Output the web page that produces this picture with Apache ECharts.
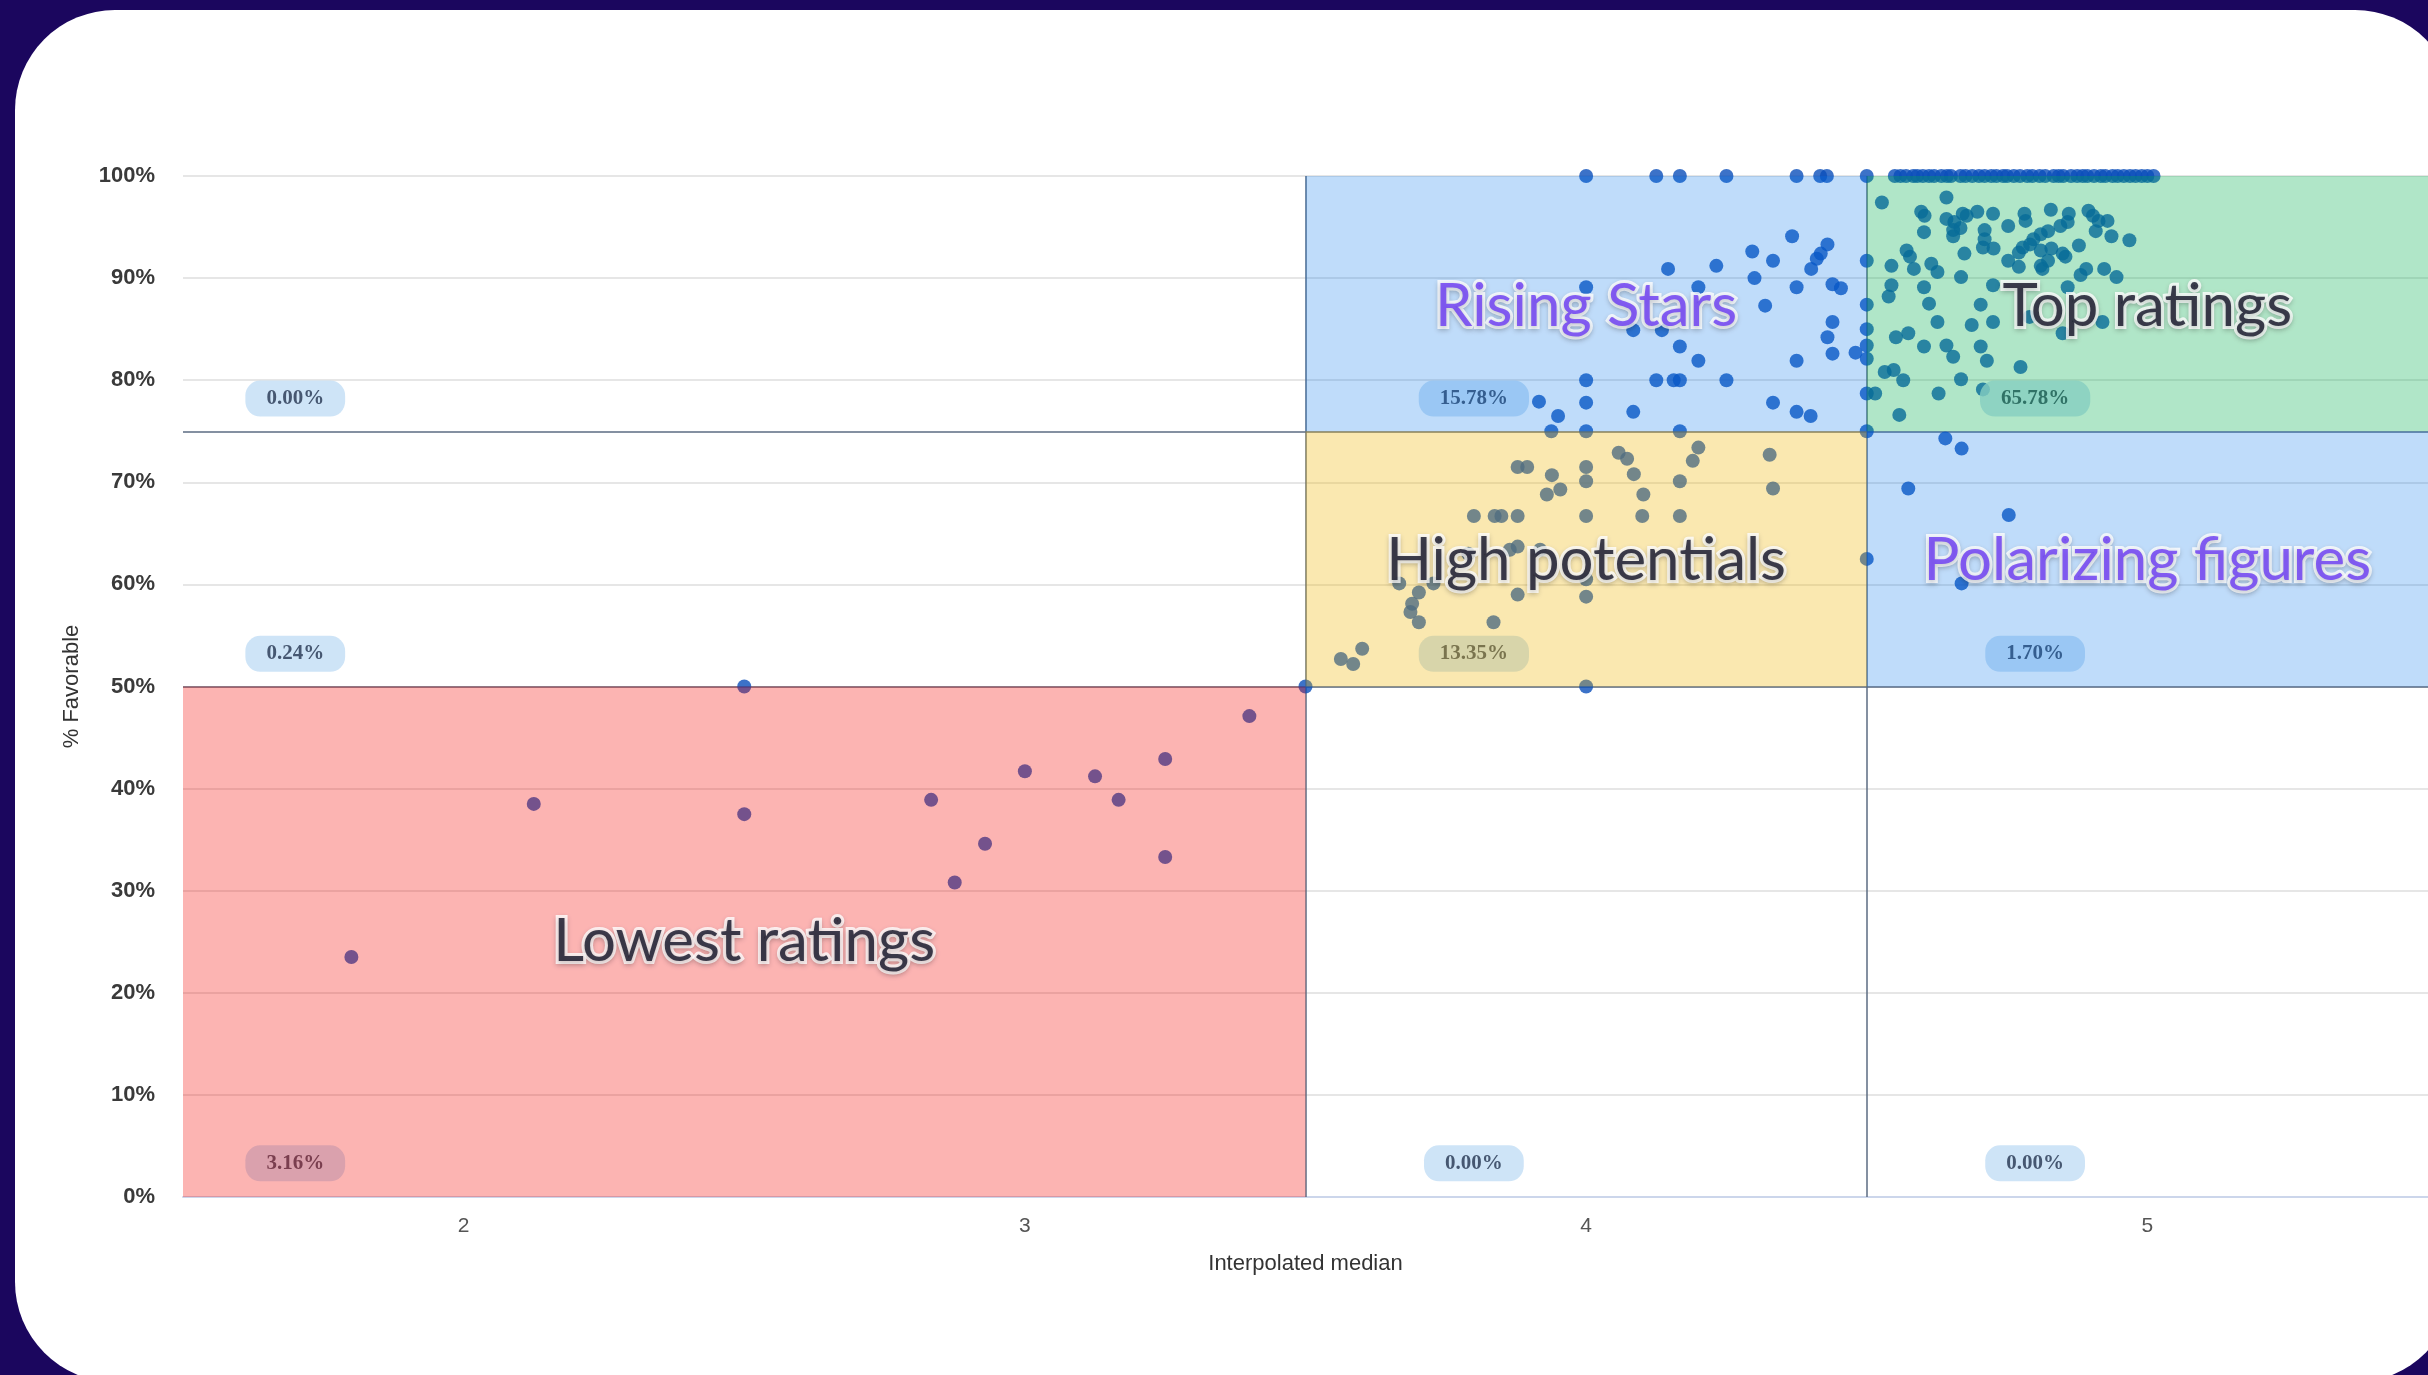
<!DOCTYPE html>
<html><head><meta charset="utf-8">
<script src="https://cdn.jsdelivr.net/npm/echarts@6/dist/echarts.min.js"></script>
<style>
html,body{margin:0;padding:0;width:2428px;height:1375px;overflow:hidden;background:#1b065e;}
#card{position:absolute;left:15px;top:10px;width:2440px;height:1372px;background:#fff;border-radius:100px;}
#chart{position:absolute;left:0;top:0;width:2428px;height:1375px;}
</style></head><body><div id="card"></div><div id="chart"></div>
<script>
// ---- axis ticks ----
const xTickValues = [2, 3, 4, 5];
const yTickStep = 10;

// ---- quadrant thresholds ----
const medianThresholds = [3.5, 4.5];
const favorableThresholds = [50, 75];

// ---- points (interpolated median, % favorable) ----
const lowestX = [1.8, 2.125, 2.5, 2.5, 2.833, 2.875, 2.929, 3.0, 3.125, 3.167, 3.25, 3.25, 3.4, 3.5];
const lowestY = [23.5, 38.5, 50.0, 37.5, 38.9, 30.8, 34.6, 41.7, 41.2, 38.9, 42.9, 33.3, 47.1, 50.0];

const potentialX = [3.938, 4.0, 4.167, 4.5, 4.058, 4.073, 4.2, 4.19, 3.878, 3.895, 4.0, 4.327, 3.939, 4.0, 4.085, 4.167, 4.333, 3.954, 3.93, 4.102,
  3.8, 3.837, 3.849, 3.878, 4.0, 4.1, 4.167, 3.878, 3.864, 3.918, 3.79, 3.667, 3.728, 4.0, 4.0, 3.878, 3.702, 3.69, 3.687, 3.702, 3.835,
  3.601, 3.563, 3.585, 4.0, 4.5];
const potentialY = [75, 75, 75, 75, 72.9, 72.3, 73.4, 72.1, 71.5, 71.5, 71.5, 72.7, 70.7, 70.1, 70.8, 70.1, 69.4, 69.3, 68.8, 68.8,
  66.7, 66.7, 66.7, 66.7, 66.7, 66.7, 66.7, 63.7, 63.4, 63.4, 63.0, 60.1, 60.1, 60.5, 58.8, 59.0, 59.2, 58.1, 57.3, 56.3, 56.3,
  53.7, 52.7, 52.2, 50, 62.5];

const risingX = [4.0, 4.125, 4.167, 4.25, 4.375, 4.417, 4.429, 4.5,
  4.367, 4.296, 4.333, 4.43, 4.418, 4.411, 4.401, 4.146, 4.232, 4.3, 4.0, 4.2, 4.375, 4.439, 4.454, 4.319,
  4.5, 4.5, 4.5, 4.5, 4.5, 4.439, 4.43, 4.439, 4.48, 4.084, 4.135, 4.167, 4.2, 4.375,
  4.0, 4.125, 4.156, 4.167, 4.25, 3.916, 3.95, 4.0, 4.084, 4.333, 4.375, 4.4, 4.5, 4.515];
const risingY = [100, 100, 100, 100, 100, 100, 100, 100,
  94.1, 92.6, 91.7, 93.3, 92.4, 91.9, 90.9, 90.9, 91.2, 90.0, 89.1, 89.1, 89.1, 89.4, 89.0, 87.3,
  91.7, 87.4, 85.0, 83.4, 82.1, 85.7, 84.2, 82.6, 82.7, 84.9, 84.9, 83.3, 81.9, 81.9,
  80.0, 80.0, 80.0, 80.0, 80.0, 77.9, 76.5, 77.8, 76.9, 77.8, 76.9, 76.5, 78.7, 78.7];

const topX = [4.55, 4.56, 4.57, 4.583, 4.59, 4.6, 4.611, 4.62, 4.633, 4.643, 4.65, 4.667, 4.676, 4.688, 4.7, 4.71, 4.722, 4.731,
  4.743, 4.75, 4.762, 4.773, 4.786, 4.795, 4.808, 4.818, 4.833, 4.842, 4.85, 4.864, 4.875, 4.885, 4.893, 4.905, 4.917, 4.925,
  4.938, 4.947, 4.958, 4.969, 4.979, 4.99, 5.0, 5.011,
  4.527, 4.642, 4.597, 4.603, 4.642, 4.656, 4.671, 4.678, 4.697, 4.725, 4.654, 4.667, 4.602, 4.654, 4.71, 4.752, 4.781, 4.783,
  4.828, 4.86, 4.858, 4.845, 4.895, 4.903, 4.913, 4.929, 4.908, 4.936, 4.968, 4.823, 4.81, 4.797, 4.791, 4.778, 4.771, 4.81,
  4.829, 4.849, 4.854, 4.823, 4.81, 4.813, 4.878, 4.71, 4.707, 4.726, 4.674, 4.571, 4.577, 4.584, 4.615, 4.626, 4.544, 4.752,
  4.771, 4.891, 4.881, 4.923, 4.945, 4.668, 4.544, 4.539, 4.602, 4.611, 4.725, 4.703, 4.626, 4.687, 4.725, 4.552, 4.574,
  4.602, 4.642, 4.654, 4.703, 4.714, 4.774, 4.532, 4.548, 4.565, 4.668, 4.628, 4.707, 4.558, 4.858, 4.849, 4.92, 4.79];
const topY = [100, 100, 100, 100, 100, 100, 100, 100, 100, 100, 100, 100, 100, 100, 100, 100, 100, 100,
  100, 100, 100, 100, 100, 100, 100, 100, 100, 100, 100, 100, 100, 100, 100, 100, 100, 100,
  100, 100, 100, 100, 100, 100, 100, 100,
  97.4, 97.9, 96.5, 96.1, 95.8, 95.5, 96.3, 96.1, 96.5, 96.3, 94.7, 94.9, 94.5, 94.1, 94.7, 95.1, 96.3, 95.6,
  96.7, 96.3, 95.5, 95.1, 96.6, 96.1, 95.6, 95.6, 94.6, 94.1, 93.7, 94.6, 94.3, 93.8, 93.3, 93.0, 92.5, 92.7,
  92.9, 92.4, 92.1, 91.7, 91.2, 90.9, 93.2, 93.8, 93.0, 92.9, 92.4, 92.7, 92.1, 90.9, 91.4, 90.6, 91.2, 91.7,
  91.1, 90.9, 90.3, 90.9, 90.1, 90.1, 89.3, 88.2, 89.1, 87.5, 89.3, 87.4, 85.7, 85.4, 85.7, 84.2, 84.6,
  83.3, 83.4, 82.3, 83.3, 81.9, 81.3, 80.8, 81.0, 80.0, 80.1, 78.7, 79.1, 76.6, 89.1, 84.6, 85.7, 86.2];

const polarX = [4.64, 4.669, 4.574, 4.753, 4.669];
const polarY = [74.3, 73.3, 69.4, 66.8, 60.1];

// ---- quadrant regions ----
const regionNames = ['Lowest ratings', 'High potentials', 'Rising Stars', 'Polarizing figures', 'Top ratings'];
const regionX0 = [1.5, 3.5, 3.5, 4.5, 4.5];
const regionX1 = [3.5, 4.5, 4.5, 5.5, 5.5];
const regionY0 = [0, 50, 75, 50, 75];
const regionY1 = [50, 75, 100, 75, 100];
const regionLabelX = [2.5, 4, 4, 5, 5];
const regionLabelY = [25, 62.3, 87.2, 62.3, 87.2];

// ---- share badges ----
const badgeText = ['0.00%', '15.78%', '65.78%', '0.24%', '13.35%', '1.70%', '3.16%', '0.00%', '0.00%'];
const badgeX = [1.7, 3.8, 4.8, 1.7, 3.8, 4.8, 1.7, 3.8, 4.8];
const badgeY = [78.2, 78.2, 78.2, 53.2, 53.2, 53.2, 3.3, 3.3, 3.3];

// ---- styles ----
const regionFill = {
  'Lowest ratings': 'rgba(245,5,0,0.30)',
  'High potentials': 'rgba(239,181,0,0.31)',
  'Rising Stars': 'rgba(0,115,236,0.25)',
  'Polarizing figures': 'rgba(0,115,236,0.25)',
  'Top ratings': 'rgba(0,174,77,0.31)'
};
const regionTextColor = {
  'Lowest ratings': '#101024',
  'High potentials': '#101024',
  'Rising Stars': '#6a3af4',
  'Polarizing figures': '#6a3af4',
  'Top ratings': '#101024'
};

const allX = lowestX.concat(potentialX, risingX, topX, polarX);
const allY = lowestY.concat(potentialY, risingY, topY, polarY);
const points = allX.map((x, i) => [x, allY[i]]);

const chart = echarts.init(document.getElementById('chart'), null, { renderer: 'canvas' });
const option = {
  animation: false,
  grid: { left: 183, right: 0, top: 176, bottom: 178, containLabel: false },
  xAxis: {
    type: 'value', min: 1.5, max: 5.5,
    name: 'Interpolated median', nameLocation: 'middle', nameGap: 56,
    nameTextStyle: { fontFamily: 'Liberation Sans', fontSize: 22, color: '#333' },
    axisLine: { show: true, lineStyle: { color: '#ccd6eb', width: 2 } },
    axisTick: { show: false },
    splitLine: { show: false },
    axisLabel: { customValues: xTickValues, fontFamily: 'Liberation Sans', fontSize: 21, color: '#555', margin: 19 }
  },
  yAxis: {
    type: 'value', min: 0, max: 100, interval: yTickStep,
    name: '% Favorable', nameLocation: 'middle', nameRotate: 90, nameGap: 100,
    nameTextStyle: { fontFamily: 'Liberation Sans', fontSize: 22, color: '#333' },
    axisLine: { show: false }, axisTick: { show: false },
    splitLine: { lineStyle: { color: '#e6e6e6', width: 2 } },
    axisLabel: { formatter: '{value}%', fontFamily: 'Liberation Sans', fontWeight: 'bold', fontSize: 22, color: '#3a3a3a', margin: 28 }
  },
  series: [
    {
      type: 'scatter', z: 2, clip: false, symbolSize: 14,
      itemStyle: { color: '#0b4fba' },
      emphasis: { disabled: true },
      data: points,
      markLine: {
        z: 2, silent: true, symbol: 'none', animation: false,
        label: { show: false },
        lineStyle: { color: '#5b6b82', width: 1.5, type: 'solid' },
        data: medianThresholds.map(v => ({ xAxis: v })).concat(favorableThresholds.map(v => ({ yAxis: v })))
      }
    },
    {
      type: 'scatter', z: 3, symbolSize: 1,
      itemStyle: { color: 'rgba(0,0,0,0)' },
      emphasis: { disabled: true },
      label: {
        show: true, position: 'inside',
        formatter: p => badgeText[p.dataIndex],
        backgroundColor: '#c2ddf5', borderRadius: 15, padding: [8, 21, 7, 21],
        fontFamily: 'Liberation Serif', fontWeight: 'bold', fontSize: 21, color: '#243450'
      },
      data: badgeX.map((x, i) => [x, badgeY[i]])
    },
    {
      type: 'custom', z: 4, clip: true, silent: true,
      encode: { x: [0, 1], y: [2, 3] },
      renderItem: function (params, api) {
        const p0 = api.coord([api.value(0), api.value(3)]);
        const p1 = api.coord([api.value(1), api.value(2)]);
        return {
          type: 'rect',
          shape: { x: p0[0], y: p0[1], width: p1[0] - p0[0], height: p1[1] - p0[1] },
          style: { fill: regionFill[regionNames[params.dataIndex]] }
        };
      },
      data: regionNames.map((n, i) => [regionX0[i], regionX1[i], regionY0[i], regionY1[i]])
    },
    {
      type: 'scatter', z: 5, symbolSize: 1, silent: true,
      itemStyle: { color: 'rgba(0,0,0,0)' },
      emphasis: { disabled: true },
      label: {
        show: true, position: 'inside',
        formatter: p => regionNames[p.dataIndex],
        fontFamily: 'Lato', fontSize: 60,
        textBorderColor: '#ffffff', textBorderWidth: 6,
        textShadowColor: 'rgba(0,0,0,0.22)', textShadowBlur: 5, textShadowOffsetY: 2
      },
      data: regionNames.map((n, i) => ({
        value: [regionLabelX[i], regionLabelY[i]],
        label: { color: regionTextColor[n] }
      }))
    }
  ]
};
chart.setOption(option);
</script>
</body></html>
